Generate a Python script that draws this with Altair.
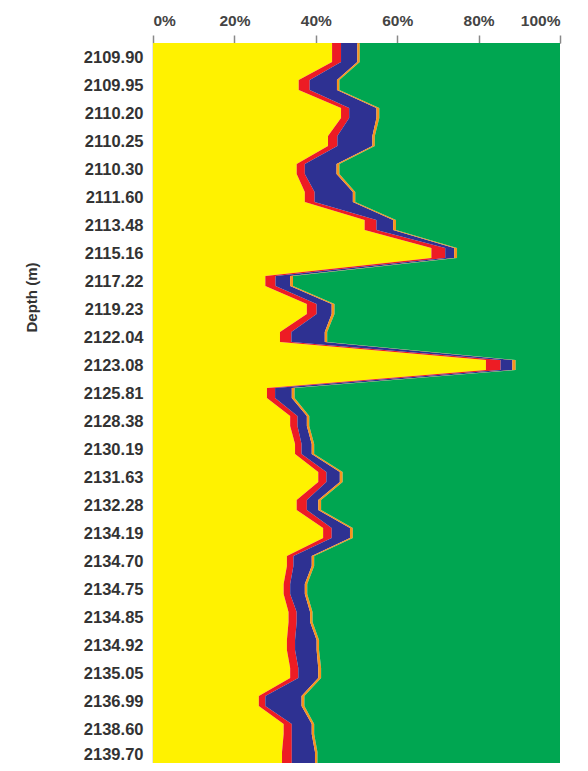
import altair as alt
import pandas as pd

depth_labels = ["2109.90", "2109.95", "2110.20", "2110.25", "2110.30", "2111.60",
                "2113.48", "2115.16", "2117.22", "2119.23", "2122.04", "2123.08",
                "2125.81", "2128.38", "2130.19", "2131.63", "2132.28", "2134.19",
                "2134.70", "2134.75", "2134.85", "2134.92", "2135.05", "2136.99",
                "2138.60", "2139.70"]

yellow = [44.0, 35.8, 46.2, 43.0, 35.3, 37.3, 52.0, 68.4, 27.6, 37.8, 31.2, 81.8, 28.0,
          33.7, 34.9, 40.6, 35.3, 41.8, 32.9, 32.1, 33.3, 32.9, 33.7, 26.0, 32.1, 31.7]
red = [2.2, 2.7, 2.0, 2.3, 2.0, 2.4, 2.9, 3.4, 2.5, 2.4, 2.8, 3.6, 2.0,
       1.8, 1.6, 2.0, 2.5, 2.1, 1.6, 1.6, 2.0, 2.0, 2.0, 1.6, 2.0, 2.4]
blue = [4.0, 6.7, 6.7, 8.6, 7.8, 9.4, 4.1, 2.2, 3.6, 3.7, 8.2, 2.9, 4.1,
        2.3, 2.5, 3.3, 2.8, 4.5, 4.5, 3.6, 3.3, 5.3, 4.9, 8.9, 4.9, 5.7]
orange = [0.6, 0.6, 0.7, 0.6, 0.7, 0.6, 0.7, 0.7, 0.7, 0.7, 0.6, 0.8, 0.7,
          0.6, 0.6, 0.7, 0.7, 0.7, 0.6, 0.6, 0.6, 0.6, 0.7, 0.7, 0.6, 0.6]

series_names = ["Yellow", "Red", "Blue", "Orange", "Green"]
series_colors = ["#FFF200", "#ED1C24", "#2E3192", "#F7941D", "#00A651"]

# plateau around each sampled depth (in band units)
half = 0.18
rows = []
n = len(depth_labels)
for i in range(n):
    positions = [i - half, i + half]
    if i == 0:
        positions = [-0.5] + positions
    if i == n - 1:
        positions = positions + [n - 0.5]
    parts = [yellow[i], red[i], blue[i], orange[i]]
    parts.append(100 - sum(parts))
    for p in positions:
        start = 0.0
        for k, name in enumerate(series_names):
            rows.append({"series": name, "order": k, "pos": p,
                         "x0": start, "x1": start + parts[k]})
            start += parts[k]

df = pd.DataFrame(rows).sort_values(["order", "pos"])

label_array = "[" + ",".join(f"'{d}'" for d in depth_labels) + "]"

chart = alt.Chart(df).mark_area(orient="horizontal", interpolate="linear", clip=True).encode(
    y=alt.Y("pos:Q",
            scale=alt.Scale(domain=[-0.5, 25.214], reverse=True, nice=False, zero=False),
            axis=alt.Axis(values=list(range(n)), labelExpr=label_array + "[round(datum.value)]",
                          ticks=False, grid=False, domainColor="#999999", domainWidth=1.5,
                          labelFont="Liberation Sans", labelFontWeight="bold", labelFontSize=16.5,
                          labelColor="#333333", labelPadding=10,
                          labelOffset=alt.ExprRef("datum.value == 25 ? -3 : 0"),
                          title="Depth (m)", titleFont="Liberation Sans", titleFontWeight="bold",
                          titleFontSize=15, titleColor="#333333", titleX=-122, titleY=254,
                          titleBaseline="middle", titleAlign="center", titleAngle=-90)),
    x=alt.X("x0:Q",
            scale=alt.Scale(domain=[0, 100], nice=False),
            axis=alt.Axis(orient="top", values=[0, 20, 40, 60, 80, 100],
                          labelExpr="datum.value + '%'", grid=False, tickSize=8,
                          tickColor="#888888", tickWidth=1.5, domainColor="#999999",
                          labelFont="Liberation Sans", labelFontWeight="bold", labelFontSize=15.5,
                          labelColor="#444444", labelPadding=7, title=None)),
    x2="x1:Q",
    color=alt.Color("series:N", scale=alt.Scale(domain=series_names, range=series_colors),
                    legend=None),
    detail="order:O",
).properties(
    width=407, height=720,
    autosize=alt.AutoSizeParams(type="none"),
    padding={"left": 145, "top": 35, "right": 20, "bottom": 0},
).configure_view(stroke=None)

chart.save("out.html", embed_options={"renderer": "svg", "actions": False})
